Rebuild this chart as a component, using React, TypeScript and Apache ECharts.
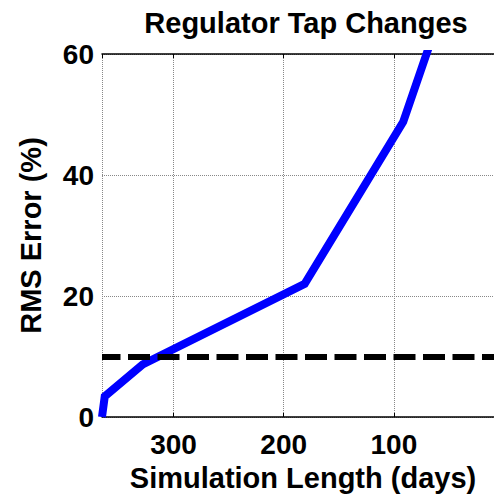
import React, { useEffect, useRef } from "react";
import * as echarts from "echarts";

const days = [365, 362.5, 328, 181, 91.5, 60];
const rmsError = [0, 3.4, 8.7, 22, 48.8, 65.5];
const thresholdValue = 10;
const title = "Regulator Tap Changes";
const xName = "Simulation Length (days)";
const yName = "RMS Error (%)";

const FONT = "Liberation Sans, Arial, sans-serif";

export default function App() {
  const ref = useRef<HTMLDivElement>(null);
  useEffect(() => {
    if (!ref.current) return;
    const chart = echarts.init(ref.current, null, { renderer: "svg" });
    const data = days.map((d, i) => [d, rmsError[i]]);
    const gridLine = { show: true, lineStyle: { color: "#888", type: "dotted" as const, width: 1 } };
    chart.setOption({
      animation: false,
      backgroundColor: "#fff",
      title: {
        text: title,
        left: 301,
        top: 3,
        textAlign: "center",
        textStyle: { fontFamily: FONT, fontWeight: "bold", fontSize: 29, color: "#000" },
      },
      grid: { left: 102, top: 54, right: 0, bottom: 73, containLabel: false },
      xAxis: [
        {
          type: "value",
          min: 0,
          max: 365,
          interval: 100,
          inverse: true,
          position: "bottom",
          name: xName,
          nameLocation: "middle",
          nameGap: 46,
          nameTextStyle: { fontFamily: FONT, fontWeight: "bold", fontSize: 29, color: "#000" },
          axisLine: { show: true, lineStyle: { color: "#000", width: 1.5 } },
          axisTick: { show: true, inside: true, length: 4, lineStyle: { color: "#000" } },
          axisLabel: {
            show: true,
            showMinLabel: false,
            showMaxLabel: false,
            margin: 13,
            fontFamily: FONT,
            fontWeight: "bold",
            fontSize: 28,
            color: "#000",
          },
          splitLine: gridLine,
        },
        {
          type: "value",
          min: 0,
          max: 365,
          interval: 100,
          inverse: true,
          position: "top",
          axisLine: { show: true, lineStyle: { color: "#000", width: 1.5 } },
          axisTick: { show: true, inside: true, length: 4, lineStyle: { color: "#000" } },
          axisLabel: { show: false },
          splitLine: { show: false },
        },
      ],
      yAxis: {
        type: "value",
        min: 0,
        max: 60,
        interval: 20,
        name: yName,
        nameLocation: "middle",
        nameGap: 57,
        nameTextStyle: { fontFamily: FONT, fontWeight: "bold", fontSize: 29, color: "#000" },
        axisLine: { show: true, lineStyle: { color: "#000", width: 1.5 } },
        axisTick: { show: true, inside: true, length: 4, lineStyle: { color: "#000" } },
        axisLabel: { margin: 8, fontFamily: FONT, fontWeight: "bold", fontSize: 28, color: "#000" },
        splitLine: gridLine,
      },
      series: [
        {
          type: "line",
          data,
          showSymbol: false,
          symbol: "none",
          clip: true,
          lineStyle: { color: "#0000ff", width: 8, cap: "butt", join: "miter" },
          markLine: {
            silent: true,
            symbol: "none",
            label: { show: false },
            data: [{ yAxis: thresholdValue }],
            lineStyle: { color: "#000", width: 6, type: [22, 7.5], cap: "butt" },
          },
          z: 3,
        },
      ],
    });
    return () => chart.dispose();
  }, []);
  return (
    <div style={{ position: "absolute", left: 0, top: 0, width: 494, height: 497, overflow: "hidden" }}>
      <div ref={ref} style={{ width: 504, height: 497 }} />
    </div>
  );
}
